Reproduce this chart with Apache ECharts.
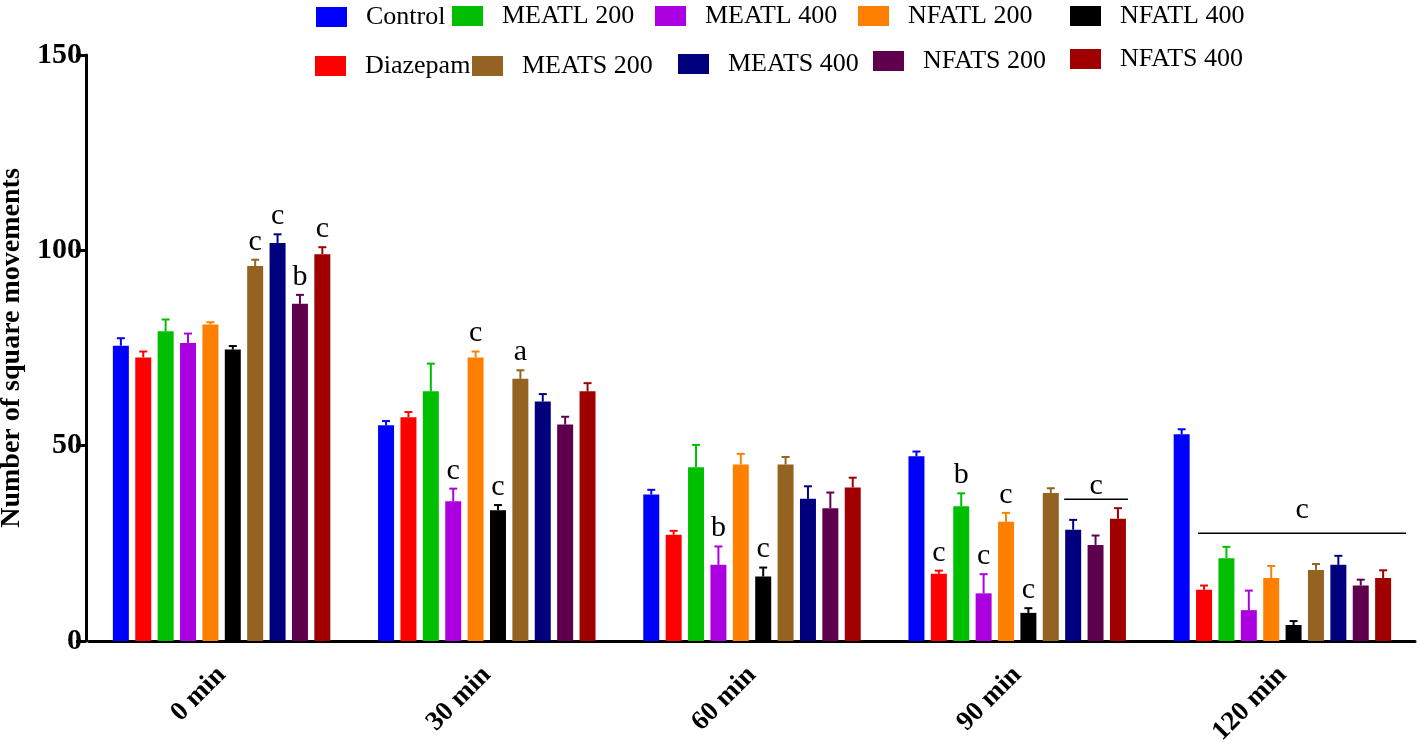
<!DOCTYPE html>
<html>
<head>
<meta charset="utf-8">
<script src="https://cdn.jsdelivr.net/npm/echarts@6/dist/echarts.min.js"></script>
<style>html,body{margin:0;padding:0;background:#fff;}#main{width:1418px;height:744px;}</style>
</head>
<body>
<div id="main"></div>
<script>
// ---- data ----
var categories = ['0 min', '30 min', '60 min', '90 min', '120 min'];
var seriesNames = ['Control', 'Diazepam', 'MEATL 200', 'MEATL 400', 'NFATL 200', 'NFATL 400', 'MEATS 200', 'MEATS 400', 'NFATS 200', 'NFATS 400'];
var yTicks = [0, 50, 100, 150];

var controlVals  = [75.6, 55.2, 37.5, 47.3, 52.9];
var diazepamVals = [72.6, 57.3, 27.2, 17.2, 13.1];
var meatl200Vals = [79.3, 63.9, 44.5, 34.5, 21.2];
var meatl400Vals = [76.3, 35.8, 19.5, 12.2, 7.9];
var nfatl200Vals = [81.0, 72.6, 45.2, 30.5, 16.1];
var nfatl400Vals = [74.6, 33.5, 16.5, 7.2, 4.1];
var meats200Vals = [96.0, 67.1, 45.2, 37.9, 18.2];
var meats400Vals = [101.9, 61.3, 36.4, 28.5, 19.5];
var nfats200Vals = [86.3, 55.4, 34.0, 24.6, 14.2];
var nfats400Vals = [99.0, 63.9, 39.3, 31.3, 16.1];

var controlErr  = [1.9, 1.1, 1.2, 1.2, 1.3];
var diazepamErr = [1.5, 1.3, 1.0, 0.8, 1.1];
var meatl200Err = [3.0, 7.1, 5.7, 3.3, 2.9];
var meatl400Err = [2.4, 3.2, 4.7, 4.9, 5.0];
var nfatl200Err = [0.6, 1.5, 2.7, 2.3, 3.1];
var nfatl400Err = [0.9, 1.3, 2.3, 1.2, 1.0];
var meats200Err = [1.6, 2.2, 1.9, 1.2, 1.5];
var meats400Err = [2.2, 1.9, 3.2, 2.5, 2.3];
var nfats200Err = [2.3, 2.0, 4.0, 2.4, 1.5];
var nfats400Err = [1.8, 2.1, 2.5, 2.7, 2.0];

var controlSig  = ['', '', '', '', ''];
var diazepamSig = ['', '', '', 'c', ''];
var meatl200Sig = ['', '', '', 'b', ''];
var meatl400Sig = ['', 'c', 'b', 'c', ''];
var nfatl200Sig = ['', 'c', '', 'c', ''];
var nfatl400Sig = ['', 'c', 'c', 'c', ''];
var meats200Sig = ['c', 'a', '', '', ''];
var meats400Sig = ['c', '', '', '', ''];
var nfats200Sig = ['b', '', '', '', ''];
var nfats400Sig = ['c', '', '', '', ''];

// group brackets (category, first series, last series, line value, letter value, letter)
var bracketCats    = [3, 4];
var bracketFrom    = [7, 1];
var bracketTo      = [9, 9];
var bracketValues  = [36.3, 27.6];
var bracketLetterV = [37.0, 31.0];
var bracketLetters = ['c', 'c'];

// ---- styling ----
var colors = ['#0000ff', '#ff0000', '#00bf00', '#ad00e0', '#ff8000', '#000000', '#946321', '#00007f', '#5f004f', '#a00000'];
// legend positions in series order
var legendPos = [
  [316, 4], [315, 53], [452, 3], [655, 3], [858, 3], [1070, 3], [472, 53], [678, 51], [873, 48], [1070, 46]
];
var FONT = '"Liberation Serif", "Times New Roman", serif';
var CAT_GAP = 0.18, BAR_GAP = 0.4, N = 10;
var bracketExtendL = [-1, 2];
var bracketExtendR = [2, 15];

var allVals = [controlVals, diazepamVals, meatl200Vals, meatl400Vals, nfatl200Vals, nfatl400Vals, meats200Vals, meats400Vals, nfats200Vals, nfats400Vals];
var allErr = [controlErr, diazepamErr, meatl200Err, meatl400Err, nfatl200Err, nfatl400Err, meats200Err, meats400Err, nfats200Err, nfats400Err];
var allSig = [controlSig, diazepamSig, meatl200Sig, meatl400Sig, nfatl200Sig, nfatl400Sig, meats200Sig, meats400Sig, nfats200Sig, nfats400Sig];

function barGeom(api, cat) {
  var bandW = api.size([1, 0])[0];
  var w = bandW * (1 - CAT_GAP) / (N + (N - 1) * BAR_GAP);
  var total = N * w + (N - 1) * BAR_GAP * w;
  var c = api.coord([cat, 0])[0];
  return { w: w, start: c - total / 2, step: w * (1 + BAR_GAP) };
}

var series = [];
seriesNames.forEach(function (name, i) {
  series.push({
    name: name, type: 'bar', data: allVals[i],
    barGap: (BAR_GAP * 100) + '%', barCategoryGap: (CAT_GAP * 100) + '%',
    itemStyle: { color: colors[i] }, animation: false
  });
});

var errData = [];
for (var s = 0; s < N; s++) {
  for (var c = 0; c < categories.length; c++) {
    errData.push([c, s, allVals[s][c], allErr[s][c]]);
  }
}
series.push({
  type: 'custom', data: errData, animation: false, silent: true, z: 5,
  renderItem: function (params, api) {
    var cat = api.value(0), s = api.value(1), v = api.value(2), e = api.value(3);
    var g = barGeom(api, cat);
    var x = g.start + g.w / 2 + s * g.step;
    var y0 = api.coord([cat, v])[1];
    var y1 = api.coord([cat, v + e])[1];
    var cap = g.w / 2;
    var children = [
      { type: 'line', shape: { x1: x, y1: y0, x2: x, y2: y1 }, style: { stroke: colors[s], lineWidth: 2 } },
      { type: 'line', shape: { x1: x - cap / 2, y1: y1, x2: x + cap / 2, y2: y1 }, style: { stroke: colors[s], lineWidth: 2 } }
    ];
    var letter = allSig[s][cat];
    if (letter) {
      children.push({ type: 'text', style: { text: letter, x: x, y: y1 - 18, align: 'center', verticalAlign: 'middle', font: '30px ' + FONT, fill: '#000' } });
    }
    return { type: 'group', children: children };
  }
});

var brData = bracketCats.map(function (cat, k) { return [cat, k]; });
series.push({
  type: 'custom', data: brData, animation: false, silent: true, z: 5,
  renderItem: function (params, api) {
    var cat = api.value(0), k = api.value(1);
    var g = barGeom(api, cat);
    var xa = g.start + bracketFrom[k] * g.step + bracketExtendL[k];
    var xb = g.start + bracketTo[k] * g.step + g.w + bracketExtendR[k];
    var y = api.coord([cat, bracketValues[k]])[1];
    var yl = api.coord([cat, bracketLetterV[k]])[1];
    return { type: 'group', children: [
      { type: 'line', shape: { x1: xa, y1: y, x2: xb, y2: y }, style: { stroke: '#000', lineWidth: 1.5 } },
      { type: 'text', style: { text: bracketLetters[k], x: (xa + xb) / 2, y: yl - 10, align: 'center', verticalAlign: 'middle', font: '30px ' + FONT, fill: '#000' } }
    ] };
  }
});

var legends = seriesNames.map(function (name, i) {
  return {
    data: [name], left: legendPos[i][0], top: legendPos[i][1], padding: 0,
    itemWidth: 31, itemHeight: 20, selectedMode: false, icon: 'rect',
    textStyle: { fontFamily: FONT, fontSize: 26, color: '#000', padding: [0, 0, 0, 14] }
  };
});

var chart = echarts.init(document.getElementById('main'));
chart.setOption({
  backgroundColor: '#fff',
  animation: false,
  legend: legends,
  grid: { left: 89, right: 3, top: 55, bottom: 103, containLabel: false, outerBoundsMode: 'none' },
  xAxis: {
    type: 'category', data: categories,
    axisLine: { lineStyle: { color: '#000', width: 3 } },
    axisTick: { alignWithLabel: true, length: 8, lineStyle: { color: '#000', width: 3 } },
    axisLabel: { rotate: 45, margin: 30, color: '#000', fontFamily: FONT, fontWeight: 'bold', fontSize: 27 }
  },
  yAxis: {
    type: 'value', min: yTicks[0], max: yTicks[yTicks.length - 1], interval: yTicks[1] - yTicks[0], offset: 3,
    name: 'Number of square movements', nameLocation: 'middle', nameGap: 56,
    nameTextStyle: { color: '#000', fontFamily: FONT, fontWeight: 'bold', fontSize: 28 },
    axisLine: { show: true, lineStyle: { color: '#000', width: 3 } },
    axisTick: { show: true, length: 10, lineStyle: { color: '#000', width: 3 } },
    splitLine: { show: false },
    axisLabel: { margin: 4, color: '#000', fontFamily: FONT, fontWeight: 'bold', fontSize: 30 }
  },
  series: series
});
</script>
</body>
</html>
